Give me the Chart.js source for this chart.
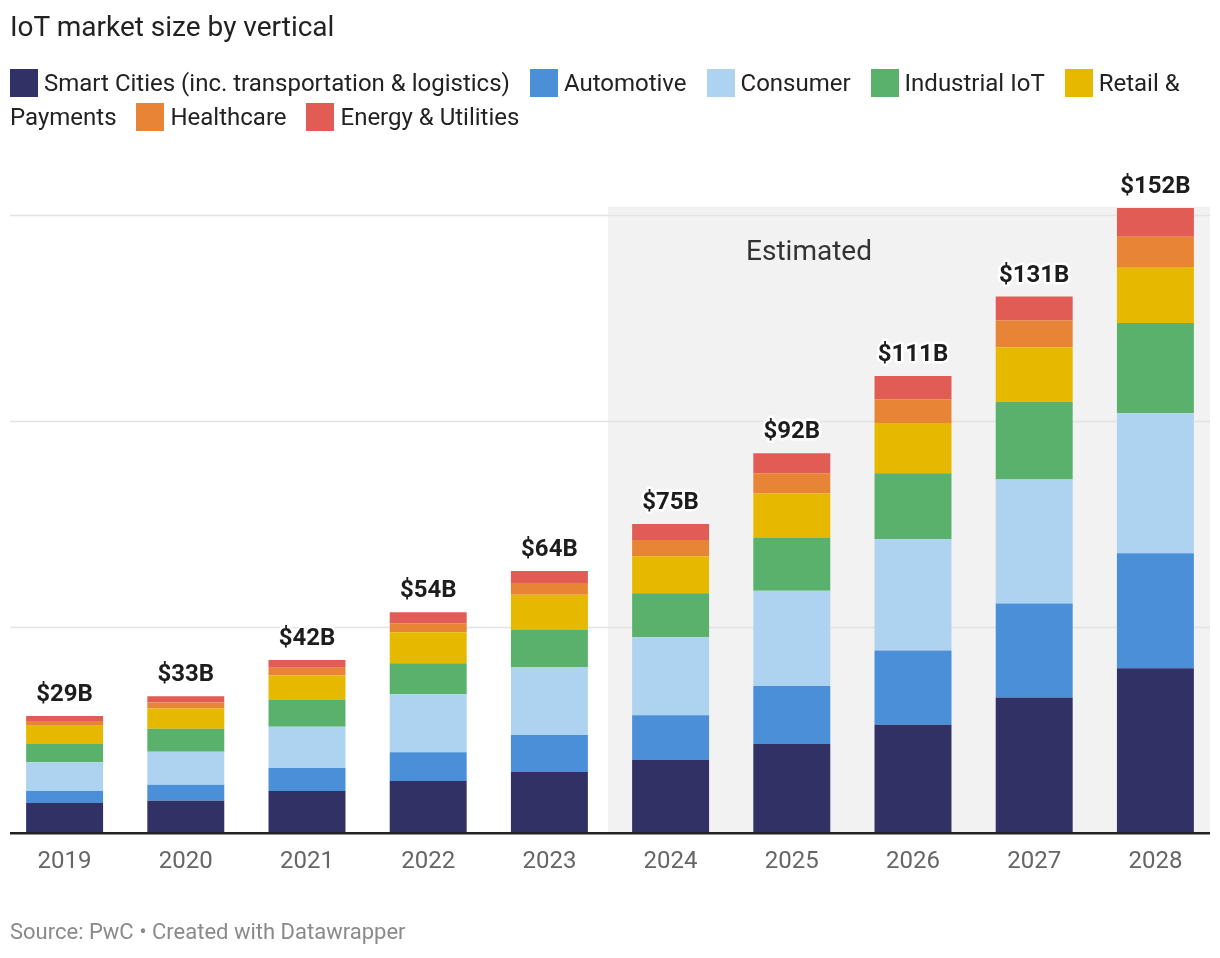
<!DOCTYPE html>
<html>
<head>
<meta charset="utf-8">
<script src="https://cdn.jsdelivr.net/npm/chart.js@4"></script>
<style>
  html, body { margin:0; padding:0; background:#fff; }
  body { width:1220px; height:958px; position:relative; overflow:hidden; font-family: Roboto, "Noto Sans", sans-serif; }
  #wrap { position:absolute; left:0; top:0; width:1220px; height:958px; }
  #title { position:absolute; left:10px; top:10px; font-size:28px; color:#222; line-height:normal; white-space:nowrap; }
  #legend { position:absolute; left:10px; top:66px; width:1200px; font-size:24px; line-height:34px; color:#222; }
  #legend .item { margin-right:14px; }
  #legend .nw { white-space:nowrap; }
  #legend .sw { display:inline-block; width:28px; height:28px; vertical-align:-6px; margin-right:6px; }
  #source { position:absolute; left:10px; top:919px; font-size:22px; color:#8a8a8a; line-height:normal; white-space:nowrap; }
</style>
</head>
<body>
<div id="wrap"><canvas id="c" width="1220" height="958"></canvas></div>
<div id="title">IoT market size by vertical</div>
<div id="legend"></div>
<div id="source">Source: PwC • Created with Datawrapper</div>
<script>
const years = ["2019","2020","2021","2022","2023","2024","2025","2026","2027","2028"];
const totalLabels = ["$29B","$33B","$42B","$54B","$64B","$75B","$92B","$111B","$131B","$152B"];
const seriesNames = ["Smart Cities (inc. transportation & logistics)","Automotive","Consumer","Industrial IoT","Retail & Payments","Healthcare","Energy & Utilities"];
const seriesColors = ["#313166","#4A8FD8","#ADD3F0","#5AB16C","#E6B800","#E88435","#E05C55"];
const smartCities = [7.3, 7.8, 10.2, 12.6, 14.8, 17.7, 21.6, 26.3, 32.9, 40.0];
const automotive  = [2.9, 3.9, 5.6, 7.0, 9.0, 10.9, 14.1, 18.0, 22.8, 27.9];
const consumer    = [7.0, 8.0, 10.0, 14.1, 16.5, 18.9, 23.1, 27.0, 30.1, 34.0];
const industrial  = [4.4, 5.6, 6.6, 7.5, 9.0, 10.7, 12.9, 16.0, 18.9, 21.9];
const retail      = [4.6, 4.9, 5.8, 7.5, 8.5, 9.0, 10.7, 12.2, 13.2, 13.6];
const healthcare  = [1.0, 1.5, 1.9, 2.2, 2.9, 3.9, 4.9, 5.8, 6.5, 7.3];
const energy      = [1.2, 1.5, 1.9, 2.7, 2.9, 3.9, 4.9, 5.6, 5.8, 7.0];
const gridValues = [50, 100, 150];
const estimatedStartIndex = 5;
const seriesValues = [smartCities, automotive, consumer, industrial, retail, healthcare, energy];

// legend (HTML, wraps like the original)
const legendEl = document.getElementById('legend');
seriesNames.forEach((name, i) => {
  const item = document.createElement('span');
  item.className = 'item';
  const words = name.split(' ');
  const nw = document.createElement('span');
  nw.className = 'nw';
  const sw = document.createElement('i');
  sw.className = 'sw';
  sw.style.background = seriesColors[i];
  nw.appendChild(sw);
  nw.appendChild(document.createTextNode(words[0]));
  item.appendChild(nw);
  if (words.length > 1) item.appendChild(document.createTextNode(' ' + words.slice(1).join(' ')));
  legendEl.appendChild(item);
  legendEl.appendChild(document.createTextNode(' '));
});

const bgPlugin = {
  id: 'bg',
  beforeDatasetsDraw(chart) {
    const ctx = chart.ctx, x = chart.scales.x, y = chart.scales.y;
    const left = (x.getPixelForValue(estimatedStartIndex - 1) + x.getPixelForValue(estimatedStartIndex)) / 2 - 2;
    const top = y.getPixelForValue(152);
    const bottom = y.getPixelForValue(0);
    ctx.save();
    ctx.fillStyle = '#f2f2f2';
    ctx.fillRect(left, top, 1210 - left, bottom - top);
    ctx.strokeStyle = '#e3e3e3';
    ctx.lineWidth = 1.5;
    gridValues.forEach(v => {
      const py = Math.round(y.getPixelForValue(v)) + 0.5;
      ctx.beginPath(); ctx.moveTo(10, py); ctx.lineTo(1210, py); ctx.stroke();
    });
    ctx.fillStyle = '#333';
    ctx.font = '28px Roboto';
    ctx.textAlign = 'center';
    ctx.textBaseline = 'alphabetic';
    ctx.fillText('Estimated', left + 201, 260);
    ctx.restore();
  },
  afterDatasetsDraw(chart) {
    const ctx = chart.ctx, x = chart.scales.x, y = chart.scales.y;
    ctx.save();
    const by = y.getPixelForValue(0);
    ctx.fillStyle = '#222';
    ctx.fillRect(10, by - 1, 1200, 2.5);
    ctx.font = 'bold 24px Roboto';
    ctx.textAlign = 'center';
    ctx.textBaseline = 'alphabetic';
    ctx.lineJoin = 'round';
    years.forEach((yr, i) => {
      let tot = 0;
      seriesValues.forEach(s => tot += s[i]);
      const px = x.getPixelForValue(i);
      const py = y.getPixelForValue(tot) - 15;
      ctx.strokeStyle = '#fff';
      ctx.lineWidth = 5;
      ctx.strokeText(totalLabels[i], px, py);
      ctx.fillStyle = '#1d1d1d';
      ctx.fillText(totalLabels[i], px, py);
    });
    ctx.restore();
  }
};

new Chart(document.getElementById('c'), {
  type: 'bar',
  data: {
    labels: years,
    datasets: seriesNames.map((n, i) => ({
      label: n,
      data: seriesValues[i],
      backgroundColor: seriesColors[i],
      borderWidth: 0,
      barPercentage: 0.635,
      categoryPercentage: 1.0
    }))
  },
  options: {
    responsive: false,
    animation: false,
    devicePixelRatio: 1,
    layout: { padding: { left: 4, right: 4, top: 173.8, bottom: 65 } },
    plugins: { legend: { display: false }, tooltip: { enabled: false } },
    scales: {
      x: {
        stacked: true,
        grid: { display: false, drawTicks: false },
        border: { display: false },
        ticks: { color: '#666', font: { family: 'Roboto', size: 24 }, padding: 15, maxRotation: 0 },
        afterFit(scale) { scale.height = 60; }
      },
      y: { stacked: true, display: false, min: 0, max: 160 }
    }
  },
  plugins: [bgPlugin]
});
</script>
</body>
</html>
